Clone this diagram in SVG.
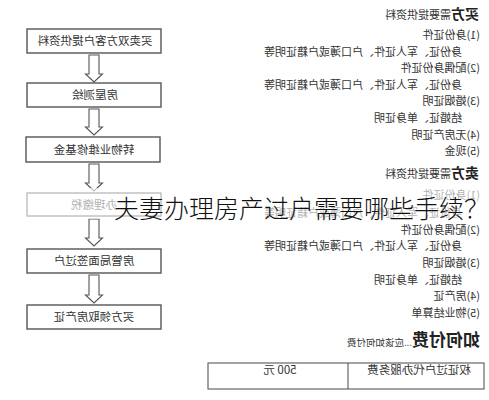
<svg xmlns="http://www.w3.org/2000/svg" width="489" height="400" viewBox="0 0 489 400">
<style>
.box{fill:#fff;stroke:#555;stroke-width:1.4}
.arr{fill:#fff;stroke:#555;stroke-width:1.1;stroke-linejoin:miter}
.bt{font-family:"Noto Sans CJK SC","Noto Sans",sans-serif;font-size:11.5px;fill:#333;text-anchor:middle}
.rt{font-family:"Noto Sans CJK SC","Noto Sans",sans-serif;font-size:11px;fill:#333}
.hb{font-family:"Noto Sans CJK SC",serif;font-weight:bold;fill:#222}
.title{font-family:"Noto Sans CJK SC","Noto Sans",sans-serif;font-size:25px;fill:#111;font-weight:300}
.tb{fill:#fff;stroke:#666;stroke-width:1.2}
</style>
<rect width="489" height="400" fill="#fff"/>

<g id="connectors">
<polygon class="arr" points="89,55 99,55 99,74 102.5,74 94,82 85.5,74 89,74"/>
<polygon class="arr" points="89,109 99,109 99,127 102.5,127 94,135 85.5,127 89,127"/>
<polygon class="arr" points="89,164 99,164 99,183 102.5,183 94,191 85.5,183 89,183"/>
<polygon class="arr" points="89,219 99,219 99,238 102.5,238 94,246 85.5,238 89,238"/>
<polygon class="arr" points="89,275 99,275 99,295 102.5,295 94,303 85.5,295 89,295"/>
</g>

<g id="n1"><rect class="box" x="27" y="29" width="134" height="24"/><text class="bt" transform="matrix(-1 0 0 1 95 45)">买卖双方客户提供资料</text></g>
<g id="n2"><rect class="box" x="27" y="83" width="134" height="24"/><text class="bt" transform="matrix(-1 0 0 1 95 99)">房屋测绘</text></g>
<g id="n3"><rect class="box" x="26" y="137" width="134" height="25"/><text class="bt" transform="matrix(-1 0 0 1 94 153.5)">转物业维修基金</text></g>
<g id="n4"><rect class="box" x="27" y="193" width="134" height="23"/><text class="bt" transform="matrix(-1 0 0 1 94 208.5)">办理缴税</text></g>
<g id="n5"><rect class="box" x="27" y="249" width="134" height="24"/><text class="bt" transform="matrix(-1 0 0 1 94 265)">房管局面签过户</text></g>
<g id="n6"><rect class="box" x="27" y="305" width="134" height="24"/><text class="bt" transform="matrix(-1 0 0 1 94 321)">买方领取房产证</text></g>

<g id="materials" transform="matrix(-1 0 0 1 489 0)">
<text class="rt" x="10" y="19"><tspan class="hb" font-size="14">买方</tspan>需要提供资料</text>
<text class="rt" x="9" y="39">(1)身份证件</text>
<text class="rt" x="27" y="55.6">身份证、军人证件、户口薄或户籍证明等</text>
<text class="rt" x="9" y="72.2">(2)配偶身份证件</text>
<text class="rt" x="27" y="88.8">身份证、军人证件、户口薄或户籍证明等</text>
<text class="rt" x="9" y="105.4">(3)婚姻证明</text>
<text class="rt" x="27" y="122">结婚证、单身证明</text>
<text class="rt" x="9" y="138.6">(4)无房产证明</text>
<text class="rt" x="9" y="155.2">(5)现金</text>
<text class="rt" x="10" y="178"><tspan class="hb" font-size="14">卖方</tspan>需要提供资料</text>
<text class="rt" x="9" y="199">(1)身份证件</text>
<text class="rt" x="27" y="216.5">身份证、军人证件、户口薄或户籍证明等</text>
<text class="rt" x="9" y="233.5">(2)配偶身份证件</text>
<text class="rt" x="27" y="250">身份证、军人证件、户口薄或户籍证明等</text>
<text class="rt" x="9" y="267">(3)婚姻证明</text>
<text class="rt" x="27" y="283.5">结婚证、单身证明</text>
<text class="rt" x="9" y="300">(4)房产证</text>
<text class="rt" x="9" y="317">(5)物业结算单</text>
<text class="rt" x="9" y="346"><tspan class="hb" font-size="17">如何付费</tspan><tspan font-size="9.5">...应该如何付费</tspan></text>
</g>

<g id="fee-table">
<rect class="tb" x="208" y="363" width="276" height="26"/>
<line x1="348" y1="363" x2="348" y2="389" stroke="#666" stroke-width="1.2"/>
<text class="bt" transform="matrix(-1 0 0 1 280 374)">500 元</text>
<text class="bt" transform="matrix(-1 0 0 1 419 374)">权证过户代办服务费</text>
</g>

<rect x="0" y="188" width="489" height="31" fill="#fff" opacity="0.62"/>
<text class="title" x="114" y="218">夫妻办理房产过户需要哪些手续？</text>
</svg>
